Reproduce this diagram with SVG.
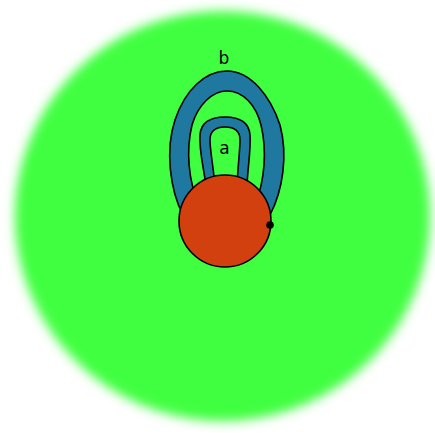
<svg xmlns="http://www.w3.org/2000/svg" width="435" height="433" viewBox="0 0 435 433">
<defs>
<filter id="blur" x="-10%" y="-10%" width="120%" height="120%"><feGaussianBlur stdDeviation="5.5"/></filter>
<style>
.band{fill:#1f78a0;stroke:#000;stroke-width:1.6;fill-rule:evenodd}
.lbl{font-family:"DejaVu Sans",sans-serif;font-size:17px;fill:#000;text-anchor:middle}
</style>
</defs>
<rect width="435" height="433" fill="#fff"/>
<g id="region">
<ellipse cx="222.5" cy="216" rx="207.5" ry="205" fill="#40ff40" filter="url(#blur)"/>
</g>
<g id="b">
<path class="band" d="M 183,215 C 170,190 165,150 175,120 C 185,90 205,71 227,71 C 250,71 270,95 280,125 C 288,155 283,190 270,215 Z M 199,205 C 188,180 186,150 192,125 C 198,105 212,91 227,91 C 243,91 256,105 261,125 C 267,150 265,180 255,205 Z"/>
<text class="lbl" x="224" y="64">b</text>
</g>
<g id="a">
<path class="band" d="M 206,185 C 203,165 199,150 200,135 C 201,122 210,117 225,117 C 240,117 249,122 250,135 C 251,150 248,165 247,185 Z M 215,185 C 213,165 210,150 210,140 C 210,131 216,127 225,127 C 234,127 240,131 240,140 C 240,150 238,165 237,185 Z"/>
<text class="lbl" x="224.5" y="154">a</text>
</g>
<g id="core">
<circle cx="225" cy="221" r="46" fill="#d24010" stroke="#000" stroke-width="1.6"/>
<circle cx="270" cy="225" r="3.8" fill="#000"/>
</g>
</svg>
